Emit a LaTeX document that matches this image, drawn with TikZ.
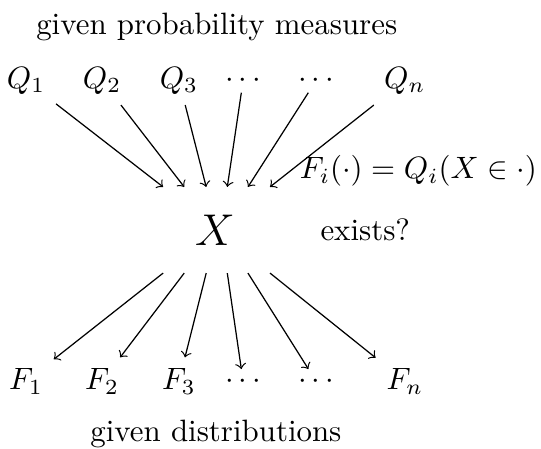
\documentclass[tikz,border=0pt]{standalone}
\begin{document}
\begin{tikzpicture}[scale=1.0, >=to, dotsnode/.style={inner ysep=1.5pt}]
  \useasboundingbox (-2.446,-2.480) rectangle (3.709,2.617);
  % Given measures
  \node (measures) at (0.02,2.31) {given probability measures};
  \node (q1) at (-2.15,1.70) {$Q_1$};
  \node (q2) at (-1.285,1.70) {$Q_2$};
  \node (q3) at (-0.41,1.70) {$Q_3$};
  \node[dotsnode] (qa) at (0.32,1.70) {$\cdots$};
  \node[dotsnode] (qb) at (1.15,1.70) {$\cdots$};
  \node (qn) at (2.16,1.70) {$Q_n$};
  % Random variable
  \node[font=\Large] (X) at (0,0) {$X$};
  \node (exists) at (1.71,0) {exists?};
  \node (law) at (2.315,0.67) {$F_i(\cdot) = Q_i(X \in \cdot)$};
  \coordinate (a1) at (-0.59,0.49);
  \coordinate (a2) at (-0.35,0.49);
  \coordinate (a3) at (-0.10,0.49);
  \coordinate (a4) at (0.14,0.49);
  \coordinate (a5) at (0.375,0.49);
  \coordinate (a6) at (0.626,0.49);
  \coordinate (b1) at (-0.59,-0.49);
  \coordinate (b2) at (-0.35,-0.49);
  \coordinate (b3) at (-0.10,-0.49);
  \coordinate (b4) at (0.14,-0.49);
  \coordinate (b5) at (0.375,-0.49);
  \coordinate (b6) at (0.626,-0.49);
  \draw[->] (q1) -- (a1);
  \draw[->] (q2) -- (a2);
  \draw[->] (q3) -- (a3);
  \draw[->] (qa) -- (a4);
  \draw[->] (qb) -- (a5);
  \draw[->] (qn) -- (a6);
  % Given distributions
  \node (f1) at (-2.15,-1.72) {$F_1$};
  \node (f2) at (-1.285,-1.72) {$F_2$};
  \node (f3) at (-0.41,-1.72) {$F_3$};
  \node[dotsnode] (fa) at (0.32,-1.72) {$\cdots$};
  \node[dotsnode] (fb) at (1.15,-1.72) {$\cdots$};
  \node (fn) at (2.16,-1.72) {$F_n$};
  \node (distributions) at (0.01,-2.32) {given distributions};
  \draw[->] (b1) -- (f1);
  \draw[->] (b2) -- (f2);
  \draw[->] (b3) -- (f3);
  \draw[->] (b4) -- (fa);
  \draw[->] (b5) -- (fb);
  \draw[->] (b6) -- (fn);
\end{tikzpicture}
\end{document}
